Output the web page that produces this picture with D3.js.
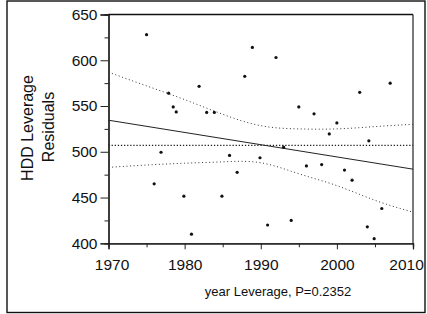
<html>
<head>
	<title>HDD Leverage</title>
	<meta charset="utf-8">
	<script src="https://d3js.org/d3.v7.min.js"></script>
	<style>
		body { margin: 0; background: #fff; }
		text { font-family: "Liberation Sans", Arial, sans-serif; fill: #111; }
	</style>
</head>
<body>
	<script type="text/javascript">
		var width = 427
		var height = 314

		// leverage points
		var years = [1975.0, 1976.0, 1976.9, 1977.9, 1978.5, 1978.9, 1979.9, 1980.9, 1981.9, 1982.9,
		             1983.9, 1984.9, 1985.9, 1986.9, 1987.9, 1988.9, 1989.9, 1990.9, 1992.0, 1993.0,
		             1994.0, 1995.0, 1996.0, 1997.0, 1998.0, 1999.0, 2000.0, 2001.0, 2002.0, 2003.0,
		             2004.0, 2004.2, 2004.9, 2005.9, 2007.0]
		var residuals = [628, 465, 499.5, 564, 549, 543.5, 451.5, 410, 571.5, 543,
		                 543, 451.5, 496, 477.5, 582.5, 614, 493.5, 420, 603, 505,
		                 425, 549, 484.5, 541.5, 486, 519.5, 531.5, 480, 469, 565,
		                 418, 512, 405, 438, 575]

		// fit line, mean line and confidence curves
		var fitYears = [1970, 2010]
		var fitValues = [534.5, 481]
		var meanValue = 507
		var bandYears = [1970, 1975, 1980, 1985, 1990, 1995, 2000, 2005, 2010]
		var bandUpper = [587, 572, 557, 541, 528.5, 525, 525, 527.5, 530]
		var bandLower = [483, 485.5, 487.5, 489, 488, 476, 463, 447, 434]

		var xTicks = [1970, 1980, 1990, 2000, 2010]
		var xMinor = [1975, 1985, 1995, 2005]
		var yTicks = [400, 450, 500, 550, 600, 650]
		var yMinor = [425, 475, 525, 575, 625]

		var svg = d3.select("body").append("svg")
		  .attr("width", width)
		  .attr("height", height)

		svg.append("rect")
		  .attr("x", 7).attr("y", 1)
		  .attr("width", 418).attr("height", 311.5)
		  .attr("fill", "none").attr("stroke", "#111").attr("stroke-width", 1.4)

		var x = d3.scaleLinear().domain([1970, 2010]).range([108.5, 413])
		var y = d3.scaleLinear().domain([400, 650]).range([243.3, 14.5])

		// axes
		var gy = svg.append("g").attr("transform", "translate(108.5,0)")
		gy.call(d3.axisLeft(y).tickValues(yTicks).tickSize(8).tickPadding(3))
		svg.append("g").attr("transform", "translate(108.5,0)")
		  .call(d3.axisLeft(y).tickValues(yMinor).tickSize(4).tickFormat(""))

		var gx = svg.append("g").attr("transform", "translate(0,243.3)")
		gx.call(d3.axisBottom(x).tickValues(xTicks).tickSize(6).tickPadding(10).tickFormat(d3.format("d")))
		svg.append("g").attr("transform", "translate(0,243.3)")
		  .call(d3.axisBottom(x).tickValues(xMinor).tickSize(4).tickFormat(""))

		svg.selectAll(".domain").attr("stroke", "#222").attr("stroke-width", 1.3)
		svg.selectAll(".tick line").attr("stroke", "#222").attr("stroke-width", 1)
		svg.selectAll(".tick text").attr("font-size", "15.5px").attr("fill", "#111")
		  .attr("font-family", "'Liberation Sans', Arial, sans-serif")
		// end labels sit inside the frame like the original
		gx.selectAll(".tick text").attr("dx", d => d == 1970 ? 3 : d == 2010 ? -7 : 0)

		// top and right frame
		svg.append("line").attr("x1", x(1970)).attr("x2", x(2010)).attr("y1", y(650)).attr("y2", y(650))
		  .attr("stroke", "#111").attr("stroke-width", 1.4)
		svg.append("line").attr("x1", x(2010)).attr("x2", x(2010)).attr("y1", y(650)).attr("y2", y(400))
		  .attr("stroke", "#222").attr("stroke-width", 1.2)

		// confidence curves
		var band = d3.line().x((d, i) => x(bandYears[i])).y(d => y(d)).curve(d3.curveNatural)
		svg.append("path").attr("d", band(bandUpper))
		  .attr("fill", "none").attr("stroke", "#333").attr("stroke-width", 1)
		  .attr("stroke-dasharray", "1,2.6")
		svg.append("path").attr("d", band(bandLower))
		  .attr("fill", "none").attr("stroke", "#333").attr("stroke-width", 1)
		  .attr("stroke-dasharray", "1,2.6")

		// mean line
		svg.append("line")
		  .attr("x1", x(1970)).attr("x2", x(2010))
		  .attr("y1", y(meanValue)).attr("y2", y(meanValue))
		  .attr("stroke", "#222").attr("stroke-width", 1.3)
		  .attr("stroke-dasharray", "1.3,1.8")

		// fit line
		svg.append("line")
		  .attr("x1", x(fitYears[0])).attr("x2", x(fitYears[1]))
		  .attr("y1", y(fitValues[0])).attr("y2", y(fitValues[1]))
		  .attr("stroke", "#222").attr("stroke-width", 1)

		// points
		svg.selectAll("circle.pt")
		  .data(years)
		  .enter()
		  .append("circle")
		    .attr("class", "pt")
		    .attr("cx", d => x(d))
		    .attr("cy", (d, i) => y(residuals[i]))
		    .attr("r", 1.6)
		    .attr("fill", "#111")

		// titles
		svg.append("text")
		  .attr("transform", "translate(33,128) rotate(-90)")
		  .attr("text-anchor", "middle")
		  .attr("font-size", "16px")
		  .text("HDD Leverage")
		svg.append("text")
		  .attr("transform", "translate(53.5,127) rotate(-90)")
		  .attr("text-anchor", "middle")
		  .attr("font-size", "16px")
		  .text("Residuals")

		svg.append("text")
		  .attr("x", 278).attr("y", 296)
		  .attr("text-anchor", "middle")
		  .attr("font-size", "13px")
		  .text("year Leverage, P=0.2352")
	</script>
</body>
</html>
